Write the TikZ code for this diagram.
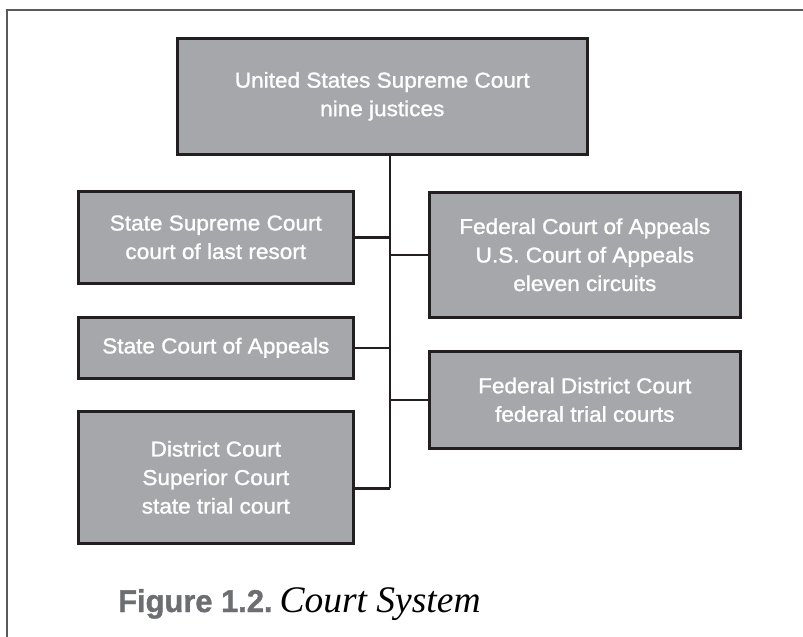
\documentclass[tikz,border=0pt]{standalone}
\usepackage{fontspec}
\setmainfont[FakeStretch=1.05,FakeBold=1.3]{Liberation Sans}
\newfontfamily\capsans[FakeBold=1.2,FakeStretch=0.98]{Liberation Sans}
\newfontfamily\capserif{Liberation Serif}
\definecolor{boxfill}{RGB}{166,167,170}
\definecolor{boxline}{RGB}{35,31,32}
\definecolor{framegray}{RGB}{88,89,91}
\definecolor{capgray}{RGB}{109,110,113}
\begin{document}
\begin{tikzpicture}[x=1pt,y=-1pt,
  court/.style={draw=boxline, line width=2.6pt, fill=boxfill, rectangle,
    anchor=north west, inner sep=0pt, text=white, align=center,
    font=\fontsize{21.5}{28.5}\selectfont},
  conn/.style={draw=boxline, line width=2.6pt},
  framestyle/.style={draw=framegray, line width=1.6pt}]
\useasboundingbox (0,0) rectangle (803,637);
% partial outer frame
\coordinate (fr1) at (803,10);
\coordinate (fr2) at (7,10);
\coordinate (fr3) at (7,637);
\draw[framestyle] (fr1) -- (fr2) -- (fr3);
% boxes
\node[court, minimum width=410pt, minimum height=116pt] (top) at (176,37)
  {United States Supreme Court\\nine justices};
\node[court, minimum width=275pt, minimum height=92pt] (ssc) at (77,190)
  {State Supreme Court\\court of last resort};
\node[court, minimum width=275pt, minimum height=61pt] (sca) at (77,316)
  {State Court of Appeals};
\node[court, minimum width=275pt, minimum height=132pt] (dc) at (77,410)
  {District Court\\Superior Court\\state trial court};
\node[court, minimum width=311pt, minimum height=125pt] (fca) at (428,191)
  {Federal Court of Appeals\\U.S. Court of Appeals\\eleven circuits};
\node[court, minimum width=311pt, minimum height=97pt] (fdc) at (428,350)
  {Federal District Court\\federal trial courts};
% connectors
\coordinate (trunk) at (390,153);
\coordinate (dcj) at ([yshift=-11pt]dc.east);
\draw[conn] (top.south -| trunk) -- (trunk |- dcj);
\draw[conn] (ssc.east) -- (ssc.east -| trunk);
\draw[conn] (sca.east) -- (sca.east -| trunk);
\draw[conn] (dcj) -- (dcj -| trunk);
\draw[conn] (fca.west) -- (fca.west -| trunk);
\draw[conn] (fdc.west) -- (fdc.west -| trunk);
% caption
\node[anchor=base west, inner sep=0pt] (cap) at (118,612)
  {{\capsans\bfseries\color{capgray}\fontsize{31.5}{34}\selectfont Figure 1.2.}\hspace{7pt}{\capserif\itshape\fontsize{37.5}{40}\selectfont Court System}};
\end{tikzpicture}
\end{document}
